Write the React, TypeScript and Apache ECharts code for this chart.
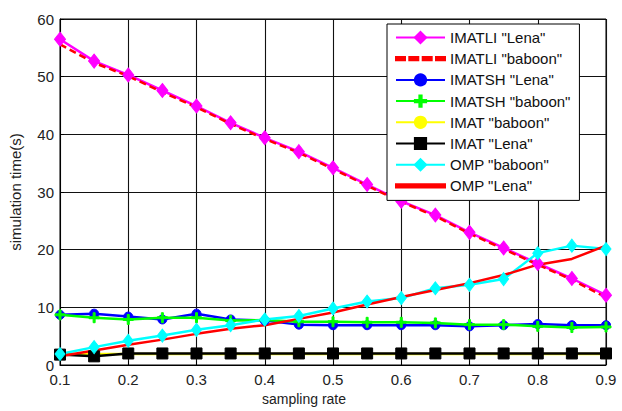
import { useEffect, useRef } from "react";
import * as echarts from "echarts";

const samplingRates = [0.1, 0.15, 0.2, 0.25, 0.3, 0.35, 0.4, 0.45, 0.5, 0.55, 0.6, 0.65, 0.7, 0.75, 0.8, 0.85, 0.9];
const imatliLena = [56.5, 52.7, 50.3, 47.6, 44.9, 42.0, 39.4, 37.0, 34.2, 31.3, 28.4, 26.0, 23.0, 20.3, 17.6, 15.0, 12.1];
const imatliBaboon = [55.6, 52.4, 50.1, 47.3, 44.7, 41.8, 39.2, 36.8, 34.0, 31.1, 28.3, 25.8, 22.8, 20.1, 17.4, 14.8, 11.7];
const imatshLena = [8.7, 8.9, 8.4, 7.9, 8.9, 7.9, 7.7, 7.0, 6.9, 6.9, 6.9, 6.9, 6.7, 6.9, 7.1, 6.9, 6.9];
const imatshBaboon = [8.7, 8.2, 7.9, 8.2, 8.2, 7.7, 7.8, 7.5, 7.5, 7.4, 7.4, 7.3, 7.0, 7.0, 6.7, 6.5, 6.6];
const imatBaboon = [1.9, 1.9, 1.9, 1.9, 1.9, 1.9, 1.9, 1.9, 1.9, 1.9, 1.9, 1.9, 1.9, 1.9, 1.9, 1.9, 1.9];
const imatLena = [1.8, 1.5, 2.0, 2.0, 2.0, 2.0, 2.0, 2.0, 2.0, 2.0, 2.0, 2.0, 2.0, 2.0, 2.0, 2.0, 2.0];
const ompBaboon = [1.9, 3.1, 4.2, 5.1, 6.1, 6.9, 7.9, 8.5, 9.8, 11.0, 11.6, 13.3, 13.9, 14.9, 19.4, 20.7, 20.1];
const ompLena = [1.5, 2.5, 3.5, 4.4, 5.4, 6.3, 6.9, 8.0, 9.1, 10.5, 11.8, 13.0, 14.2, 15.6, 17.4, 18.4, 20.7];

const yTicks = { min: 0, max: 60, interval: 10 };
const xTicks = { min: 0.1, max: 0.9, interval: 0.1 };

const PLUS = "path://M4,0H6V4H10V6H6V10H4V6H0V4H4Z";
const SOLID_ICON = "path://M0,0H49V3.2H0Z";
const DASH_ICON = "path://M0,0H9V3.2H0ZM13.3,0H22.3V3.2H13.3ZM26.7,0H35.7V3.2H26.7ZM40,0H49V3.2H40Z";

const pairs = (vals: number[]) => samplingRates.map((x, i) => [x, vals[i]]);

export default function App() {
  const ref = useRef<HTMLDivElement>(null);
  useEffect(() => {
    if (!ref.current) return;
    const chart = echarts.init(ref.current, null, { renderer: "svg" });
    const font = "'Liberation Sans', Arial, Helvetica, sans-serif";
    const mk = (
      name: string,
      vals: number[],
      color: string,
      symbol: string,
      symbolSize: any,
      extra: any = {}
    ) => ({
      name,
      type: "line",
      data: pairs(vals),
      symbol,
      symbolSize,
      showSymbol: symbol !== "none",
      color,
      lineStyle: { color, width: 2.5, type: extra.dash ? [7, 4] : "solid" },
      itemStyle: { color, borderColor: color, borderWidth: 1 },
      emphasis: { disabled: true },
      silent: true,
    });
    chart.setOption({
      animation: false,
      textStyle: { fontFamily: font },
      grid: {
        left: 54,
        right: 16,
        top: 19,
        bottom: 42,
        show: true,
        borderColor: "#000",
        borderWidth: 1,
        backgroundColor: "#fff",
      },
      legend: {
        orient: "vertical",
        left: 387,
        top: 24,
        padding: [6, 9, 7, 8],
        itemWidth: 49,
        itemHeight: 14,
        itemGap: 6.2,
        backgroundColor: "#fff",
        borderColor: "#000",
        borderWidth: 1,
        borderRadius: 0,
        textStyle: { fontSize: 15, color: "#111", fontFamily: font },
        data: [
          { name: 'IMATLI "Lena"' },
          { name: 'IMATLI "baboon"', icon: DASH_ICON },
          { name: 'IMATSH "Lena"' },
          { name: 'IMATSH "baboon"' },
          { name: 'IMAT "baboon"' },
          { name: 'IMAT "Lena"' },
          { name: 'OMP "baboon"' },
          { name: 'OMP "Lena"', icon: SOLID_ICON },
        ],
      },
      xAxis: {
        type: "value",
        min: xTicks.min,
        max: xTicks.max,
        interval: xTicks.interval,
        name: "sampling rate",
        nameLocation: "middle",
        nameGap: 27,
        nameTextStyle: { fontSize: 14, color: "#222", padding: [0, 58, 0, 0] },
        axisLine: { show: true, lineStyle: { color: "#000", width: 1 } },
        axisTick: { show: true, inside: true, length: 4, lineStyle: { color: "#000" } },
        axisLabel: {
          fontSize: 15,
          color: "#222",
          margin: 7,
          formatter: (v: number) => v.toFixed(1),
        },
        splitLine: { show: true, lineStyle: { color: "#111", width: 1.1 } },
      },
      yAxis: {
        type: "value",
        min: yTicks.min,
        max: yTicks.max,
        interval: yTicks.interval,
        name: "simulation time(s)",
        nameLocation: "middle",
        nameGap: 37,
        nameTextStyle: { fontSize: 15, color: "#222" },
        axisLine: { show: true, lineStyle: { color: "#000", width: 1 } },
        axisTick: { show: true, inside: true, length: 4, lineStyle: { color: "#000" } },
        axisLabel: {
          fontSize: 15,
          color: "#222",
          margin: 6,
          formatter: (v: number) => (v === 0 ? "{z|0}" : String(v)),
          rich: { z: { fontSize: 15, color: "#222", padding: [0, 0, 0, 0], align: "right", verticalAlign: "bottom", lineHeight: 15 } },
        },
        splitLine: { show: true, lineStyle: { color: "#111", width: 1.1 } },
      },
      series: [
        mk('IMATLI "Lena"', imatliLena, "#ff00ff", "diamond", [11, 14]),
        mk('IMATLI "baboon"', imatliBaboon, "#ff0000", "none", 0, { dash: true }),
        mk('IMATSH "Lena"', imatshLena, "#0000ff", "circle", 9),
        mk('IMATSH "baboon"', imatshBaboon, "#00ff00", PLUS, 10),
        mk('IMAT "baboon"', imatBaboon, "#ffff00", "circle", 9),
        mk('IMAT "Lena"', imatLena, "#000000", "rect", 11),
        mk('OMP "baboon"', ompBaboon, "#00ffff", "diamond", [10, 13]),
        mk('OMP "Lena"', ompLena, "#ff0000", "none", 0),
      ],
    });
    return () => chart.dispose();
  }, []);
  return <div ref={ref} style={{ width: 622, height: 411, position: "absolute", left: 0, top: 0 }} />;
}
